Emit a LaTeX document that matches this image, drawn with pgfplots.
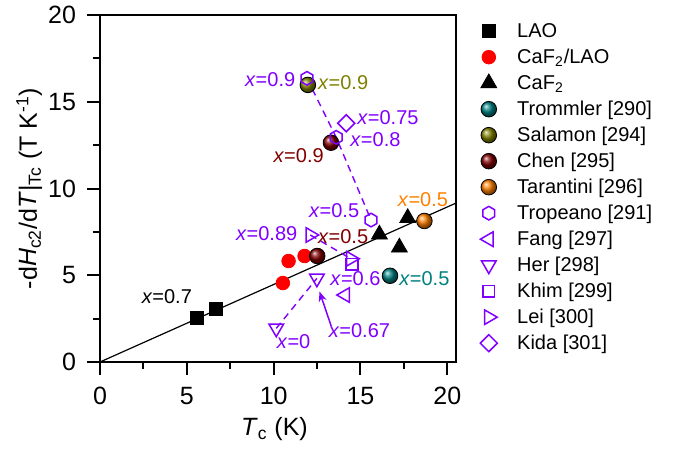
\documentclass[border=0pt]{standalone}
\usepackage{fontspec}
\setmainfont{Liberation Sans}
\usepackage{pgfplots}
\pgfplotsset{compat=1.18}
\usetikzlibrary{arrows.meta,plotmarks}

\definecolor{vio}{RGB}{128,0,255}
\definecolor{oli}{RGB}{128,128,0}
\definecolor{dred}{RGB}{128,0,0}
\definecolor{tea}{RGB}{0,128,128}
\definecolor{ora}{RGB}{255,128,0}

% open hexagon, pointy top
\pgfdeclareplotmark{hexagon}{%
  \pgfpathmoveto{\pgfqpointpolar{90}{\pgfplotmarksize}}%
  \pgfpathlineto{\pgfqpointpolar{150}{\pgfplotmarksize}}%
  \pgfpathlineto{\pgfqpointpolar{210}{\pgfplotmarksize}}%
  \pgfpathlineto{\pgfqpointpolar{270}{\pgfplotmarksize}}%
  \pgfpathlineto{\pgfqpointpolar{330}{\pgfplotmarksize}}%
  \pgfpathlineto{\pgfqpointpolar{30}{\pgfplotmarksize}}%
  \pgfpathclose
  \pgfusepathqstroke
}

\newcommand{\lab}{\fontsize{10}{12}\selectfont}
\newcommand{\axfont}{\fontsize{12.5}{15}\selectfont}
\newcommand{\xe}[1]{\textit{x}=#1}

\begin{document}
\begin{tikzpicture}
\useasboundingbox (-50pt,-44pt) rectangle (288pt,181pt);
\begin{axis}[
  at={(0,0)}, anchor=south west,
  scale only axis,
  width=178pt, height=173.5pt,
  xmin=0, xmax=20.5, ymin=0, ymax=20,
  xtick={0,5,10,15,20}, ytick={0,5,10,15,20},
  minor x tick num=1, minor y tick num=1,
  tick pos=left, tick align=outside,
  major tick length=6.5pt, minor tick length=3.5pt,
  every tick/.style={black, line width=1pt},
  axis line style={line width=1pt},
  /pgf/number format/assume math mode=true,
  tick label style={font=\axfont},
  xticklabel style={yshift=-2.5pt},
  yticklabel style={xshift=-2pt},
  legend image code/.code={%
    \path (0pt,0pt) (21pt,0pt);
    \draw[#1] plot coordinates {(8pt,0pt)};},
  legend style={draw=none, fill=none, at={(1.045,0.992)}, anchor=north west,
    inner sep=0pt, font=\lab, row sep=0pt,
    nodes={text height=8.5pt, text depth=2.5pt, inner sep=1pt}},
  legend cell align=left,
  clip=false,
]
% guide line and connecting dashes
\addplot[black, line width=0.6pt, forget plot] coordinates {(0,0) (20.5,9.16)};
\addplot[vio, line width=0.7pt, dash pattern=on 3.5pt off 2.5pt, forget plot]
  coordinates {(11.92,16.35) (13.6,12.95) (15.61,8.18)};
\addplot[vio, line width=0.7pt, dash pattern=on 3.5pt off 2.5pt, forget plot]
  coordinates {(10.15,1.94) (12.49,4.82)};
\addplot[vio, line width=0.7pt, dash pattern=on 3.5pt off 2.5pt, forget plot]
  coordinates {(12.11,7.32) (14.45,5.95)};

\addplot[only marks, mark=square*, mark size=3.3pt, black]
  coordinates {(5.57,2.54) (6.67,3.05)};
\addlegendentry{LAO}
\addplot[only marks, mark=*, mark size=3.4pt, red, mark options={fill=red, draw=red}]
  coordinates {(10.53,4.55) (10.86,5.82) (11.78,6.11)};
\addlegendentry{CaF\textsubscript{2}/LAO}
\addplot[only marks, mark=triangle*, mark size=4.6pt, black]
  coordinates {(16.09,7.35) (17.24,6.6) (17.72,8.3)};
\addlegendentry{CaF\textsubscript{2}}
\addplot[only marks, mark=ball, mark size=3.9pt, mark options={ball color=tea}]
  coordinates {(16.7,4.97)};
\addlegendentry{Trommler [290]}
\addplot[only marks, mark=ball, mark size=3.9pt, mark options={ball color=oli}]
  coordinates {(11.97,15.97)};
\addlegendentry{Salamon [294]}
\addplot[only marks, mark=ball, mark size=3.9pt, mark options={ball color=dred}]
  coordinates {(13.3,12.64) (12.51,6.11)};
\addlegendentry{Chen [295]}
\addplot[only marks, mark=ball, mark size=3.9pt, mark options={ball color=ora}]
  coordinates {(18.68,8.13)};
\addlegendentry{Tarantini [296]}
\addplot[only marks, mark=hexagon, mark size=3.4pt, vio, mark options={line width=0.75pt}]
  coordinates {(11.92,16.35) (13.6,12.95) (15.61,8.18)};
\addlegendentry{Tropeano [291]}
\addplot[only marks, mark=triangle, mark size=4.2pt, vio, mark options={rotate=90, line width=0.75pt}]
  coordinates {(14.12,3.86)};
\addlegendentry{Fang [297]}
\addplot[only marks, mark=triangle, mark size=4.2pt, vio, mark options={rotate=180, line width=0.75pt}]
  coordinates {(10.15,1.94) (12.49,4.82)};
\addlegendentry{Her [298]}
\addplot[only marks, mark=square, mark size=2.9pt, vio, mark options={line width=0.75pt}]
  coordinates {(14.51,5.64)};
\addlegendentry{Khim [299]}
\addplot[only marks, mark=triangle, mark size=4.2pt, vio, mark options={rotate=-90, line width=0.75pt}]
  coordinates {(12.11,7.32) (14.45,5.95)};
\addlegendentry{Lei [300]}
\addplot[only marks, mark=square, mark size=3pt, vio, mark options={rotate=45, line width=0.75pt}]
  coordinates {(14.18,13.76)};
\addlegendentry{Kida [301]}

% axis labels
\node[font=\axfont, rotate=90, anchor=base] at (rel axis cs:-0.177,0.5)
  {-d\textit{H}\textsubscript{c2}/d\textit{T}|\textsubscript{Tc} (T K\textsuperscript{-1})};
\node[font=\axfont, anchor=base] at ([yshift=-37pt]rel axis cs:0.49,0)
  {\textit{T}\textsubscript{c} (K)};

% annotations
\node[font=\lab, black] at (axis cs:3.85,3.75) {\xe{0.7}};
\node[font=\lab, vio] at (axis cs:9.8,16.25) {\xe{0.9}};
\node[font=\lab, oli] at (axis cs:14.0,16.1) {\xe{0.9}};
\node[font=\lab, vio] at (axis cs:16.58,14.06) {\xe{0.75}};
\node[font=\lab, vio] at (axis cs:15.86,12.8) {\xe{0.8}};
\node[font=\lab, dred] at (axis cs:11.44,11.89) {\xe{0.9}};
\node[font=\lab, ora] at (axis cs:18.6,9.34) {\xe{0.5}};
\node[font=\lab, vio] at (axis cs:13.48,8.7) {\xe{0.5}};
\node[font=\lab, vio] at (axis cs:9.6,7.42) {\xe{0.89}};
\node[font=\lab, dred] at (axis cs:14.0,7.2) {\xe{0.5}};
\node[font=\lab, vio] at (axis cs:14.71,4.78) {\xe{0.6}};
\node[font=\lab, tea] at (axis cs:18.68,4.78) {\xe{0.5}};
\node[font=\lab, vio] at (axis cs:14.94,1.79) {\xe{0.67}};
\node[font=\lab, vio] at (axis cs:11.15,1.17) {\xe{0}};
\draw[vio, line width=0.75pt, -{Stealth[length=5pt,width=4pt]}] (axis cs:13.32,2.05) -- (axis cs:12.64,4.06);
\end{axis}
\end{tikzpicture}
\end{document}
